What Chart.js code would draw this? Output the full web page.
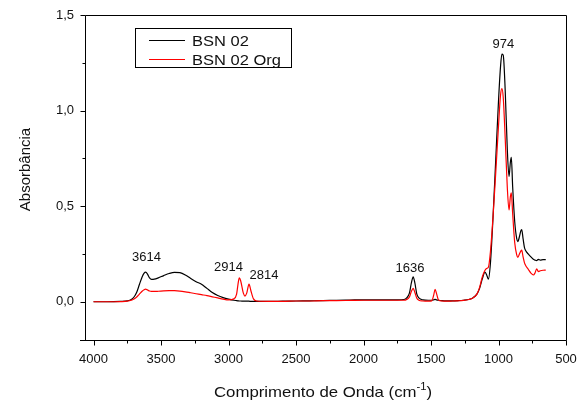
<!DOCTYPE html>
<html>
<head>
<meta charset="utf-8">
<script src="https://cdn.jsdelivr.net/npm/chart.js@4"></script>
<style>
html,body{margin:0;padding:0;background:#fff;}
#wrap{width:581px;height:400px;}
</style>
</head>
<body>
<div id="wrap"><canvas id="c" width="581" height="400"></canvas></div>
<script>
// ---- data ----
const wavenumbers = [4000,3900,3800,3750,3720,3700,3680,3660,3640,3625,3614,3600,3585,3570,3550,3520,3480,3440,3400,3360,3320,3280,3240,3200,3160,3120,3080,3040,3000,2960,2940,2930,2920,2910,2890,2878,2865,2848,2835,2815,2790,2700,2600,2500,2400,2300,2200,2100,2000,1900,1800,1750,1700,1680,1660,1645,1632,1620,1605,1590,1560,1520,1495,1480,1470,1460,1445,1420,1380,1340,1300,1260,1220,1190,1160,1140,1120,1100,1085,1075,1060,1040,1020,1000,985,975,965,950,935,922,912,905,895,880,865,857,845,835,828,818,808,799,780,760,742,730,717,705,690,670,650];
const bsn02 = [0,0,0.002,0.005,0.012,0.025,0.05,0.09,0.13,0.15,0.155,0.145,0.125,0.117,0.118,0.125,0.137,0.148,0.154,0.152,0.14,0.122,0.105,0.092,0.07,0.048,0.033,0.022,0.014,0.008,0.006,0.005,0.004,0.004,0.003,0.003,0.003,0.003,0.002,0.002,0.002,0.002,0.003,0.004,0.005,0.006,0.008,0.009,0.01,0.01,0.01,0.01,0.012,0.02,0.045,0.1,0.13,0.1,0.04,0.02,0.01,0.008,0.008,0.01,0.012,0.01,0.008,0.006,0.005,0.005,0.006,0.008,0.012,0.02,0.04,0.07,0.12,0.155,0.135,0.118,0.2,0.45,0.75,1.05,1.23,1.295,1.29,1.1,0.8,0.655,0.73,0.755,0.6,0.42,0.33,0.315,0.34,0.37,0.378,0.33,0.285,0.268,0.25,0.235,0.222,0.218,0.215,0.222,0.218,0.22,0.22];
const bsn02Org = [0,0,0.001,0.003,0.008,0.015,0.025,0.04,0.055,0.063,0.066,0.062,0.056,0.054,0.054,0.055,0.057,0.058,0.058,0.056,0.052,0.047,0.042,0.037,0.032,0.026,0.02,0.014,0.01,0.015,0.04,0.09,0.125,0.11,0.045,0.03,0.045,0.092,0.06,0.015,0.004,0.002,0.002,0.004,0.004,0.006,0.006,0.007,0.008,0.008,0.008,0.008,0.008,0.012,0.025,0.055,0.07,0.05,0.018,0.008,0.004,0.003,0.005,0.035,0.065,0.045,0.01,0.004,0.003,0.004,0.005,0.007,0.012,0.02,0.04,0.075,0.13,0.165,0.175,0.18,0.26,0.45,0.68,0.92,1.08,1.115,1.07,0.85,0.6,0.48,0.55,0.57,0.46,0.31,0.245,0.232,0.25,0.265,0.27,0.235,0.205,0.19,0.17,0.15,0.14,0.15,0.172,0.158,0.162,0.165,0.166];
const seriesNames = ['BSN 02','BSN 02 Org'];
const xMajorTicks = [4000,3500,3000,2500,2000,1500,1000,500];
const xMinorTicks = [3750,3250,2750,2250,1750,1250,750];
const yMajorTicks = [0,0.5,1.0,1.5];
const yMinorTicks = [0.25,0.75,1.25];
const peakLabels = ['3614','2914','2814','1636','974'];
const peakLabelAt = [[3607,0.213],[3000,0.16],[2737,0.119],[1656,0.155],[964,1.325]];

const FONT = "'Liberation Sans', Arial, Helvetica, sans-serif";
Chart.defaults.font.family = FONT;
Chart.defaults.color = '#111';

const toPts = (ys) => wavenumbers.map((w,i)=>({x:w,y:ys[i]}));

const decor = {
  id:'decor',
  afterDraw(chart){
    const ctx = chart.ctx, a = chart.chartArea;
    const xs = chart.scales.x, ys = chart.scales.y;
    ctx.save();
    ctx.strokeStyle = '#000';
    ctx.lineWidth = 1;
    // frame
    ctx.beginPath();
    ctx.moveTo(Math.round(a.left)+0.5, Math.round(a.top)+0.5);
    ctx.lineTo(Math.round(a.right)+0.5, Math.round(a.top)+0.5);
    ctx.lineTo(Math.round(a.right)+0.5, Math.round(a.bottom)+0.5);
    ctx.moveTo(Math.round(a.left)-5, Math.round(a.bottom)+0.5);
    ctx.lineTo(Math.round(a.right)+0.5, Math.round(a.bottom)+0.5);
    ctx.moveTo(Math.round(a.left)+0.5, Math.round(a.top)+0.5);
    ctx.lineTo(Math.round(a.left)+0.5, Math.round(a.bottom)+0.5);
    ctx.stroke();
    // ticks
    ctx.beginPath();
    const by = Math.round(a.bottom)+0.5, lx = Math.round(a.left)+0.5;
    xMajorTicks.forEach(v=>{const p=Math.round(xs.getPixelForValue(v))+0.5; ctx.moveTo(p,by); ctx.lineTo(p,by+5);});
    xMinorTicks.forEach(v=>{const p=Math.round(xs.getPixelForValue(v))+0.5; ctx.moveTo(p,by); ctx.lineTo(p,by+3);});
    yMajorTicks.forEach(v=>{const p=Math.round(ys.getPixelForValue(v))+0.5; ctx.moveTo(lx,p); ctx.lineTo(lx-5,p);});
    yMinorTicks.forEach(v=>{const p=Math.round(ys.getPixelForValue(v))+0.5; ctx.moveTo(lx,p); ctx.lineTo(lx-3,p);});
    ctx.stroke();

    // peak labels
    ctx.fillStyle = '#111';
    ctx.font = '13px ' + FONT;
    ctx.textAlign = 'center';
    ctx.textBaseline = 'alphabetic';
    peakLabels.forEach((t,i)=>{
      ctx.fillText(t, xs.getPixelForValue(peakLabelAt[i][0]), ys.getPixelForValue(peakLabelAt[i][1]));
    });

    // legend
    const lg = {x:135.5, y:28.5, w:156, h:39};
    ctx.strokeStyle = '#000';
    ctx.strokeRect(lg.x, lg.y, lg.w, lg.h);
    const colors = ['#000','#ff0000'];
    const rowsY = [40, 59];
    ctx.textAlign = 'left';
    ctx.font = '15px ' + FONT;
    seriesNames.forEach((n,i)=>{
      ctx.strokeStyle = colors[i];
      ctx.beginPath(); ctx.moveTo(149, rowsY[i]+0.5); ctx.lineTo(185, rowsY[i]+0.5); ctx.stroke();
      ctx.save();
      ctx.translate(192, rowsY[i]+6);
      ctx.scale(1.1,1);
      ctx.fillStyle = '#111';
      ctx.fillText(n, 0, 0);
      ctx.restore();
    });

    // y title
    ctx.save();
    ctx.translate(29.5, 169.5);
    ctx.rotate(-Math.PI/2);
    ctx.textAlign = 'center';
    ctx.font = '15px ' + FONT;
    ctx.fillStyle = '#111';
    ctx.fillText('Absorbância', 0, 0);
    ctx.restore();

    // x title with superscript
    ctx.save();
    const p1 = 'Comprimento de Onda (cm', sup = '-1', p2 = ')';
    ctx.font = '15px ' + FONT;
    const w1 = ctx.measureText(p1).width, w3 = ctx.measureText(p2).width;
    ctx.font = '10px ' + FONT;
    const w2 = ctx.measureText(sup).width;
    const sx = 1.12;
    const total = (w1+w2+w3)*sx;
    ctx.translate(323 - total/2, 397);
    ctx.scale(sx,1);
    ctx.textAlign = 'left';
    ctx.fillStyle = '#111';
    ctx.font = '15px ' + FONT;
    ctx.fillText(p1, 0, 0);
    ctx.font = '10px ' + FONT;
    ctx.fillText(sup, w1, -7);
    ctx.font = '15px ' + FONT;
    ctx.fillText(p2, w1+w2, 0);
    ctx.restore();

    ctx.restore();
  }
};

new Chart(document.getElementById('c'), {
  type:'line',
  data:{
    datasets:[
      {label:seriesNames[0], data:toPts(bsn02), borderColor:'#000', borderWidth:1.2, pointRadius:0, cubicInterpolationMode:'monotone', order:2, fill:false},
      {label:seriesNames[1], data:toPts(bsn02Org), borderColor:'#ff0000', borderWidth:1.2, pointRadius:0, cubicInterpolationMode:'monotone', order:1, fill:false}
    ]
  },
  options:{
    responsive:false,
    devicePixelRatio:1,
    animation:false,
    events:[],
    layout:{padding:{left:0,right:15,top:15,bottom:0}},
    plugins:{legend:{display:false}, tooltip:{enabled:false}},
    scales:{
      x:{
        type:'linear', reverse:true, min:500, max:4063,
        grid:{display:false, drawTicks:false}, border:{display:false},
        afterBuildTicks(s){ s.ticks = xMajorTicks.map(v=>({value:v})); },
        afterFit(s){ s.height = 60; s.paddingLeft = 0; s.paddingRight = 0; },
        ticks:{font:{size:13}, padding:12, maxRotation:0, autoSkip:false, callback:(v)=>String(v)}
      },
      y:{
        type:'linear', min:-0.2, max:1.5,
        grid:{display:false, drawTicks:false}, border:{display:false},
        afterBuildTicks(s){ s.ticks = yMajorTicks.map(v=>({value:v})); },
        afterFit(s){ s.width = 85; s.paddingTop = 0; s.paddingBottom = 0; },
        ticks:{font:{size:13}, padding:11, callback:(v)=>v.toFixed(1).replace('.',',')}
      }
    }
  },
  plugins:[decor]
});
</script>
</body>
</html>
